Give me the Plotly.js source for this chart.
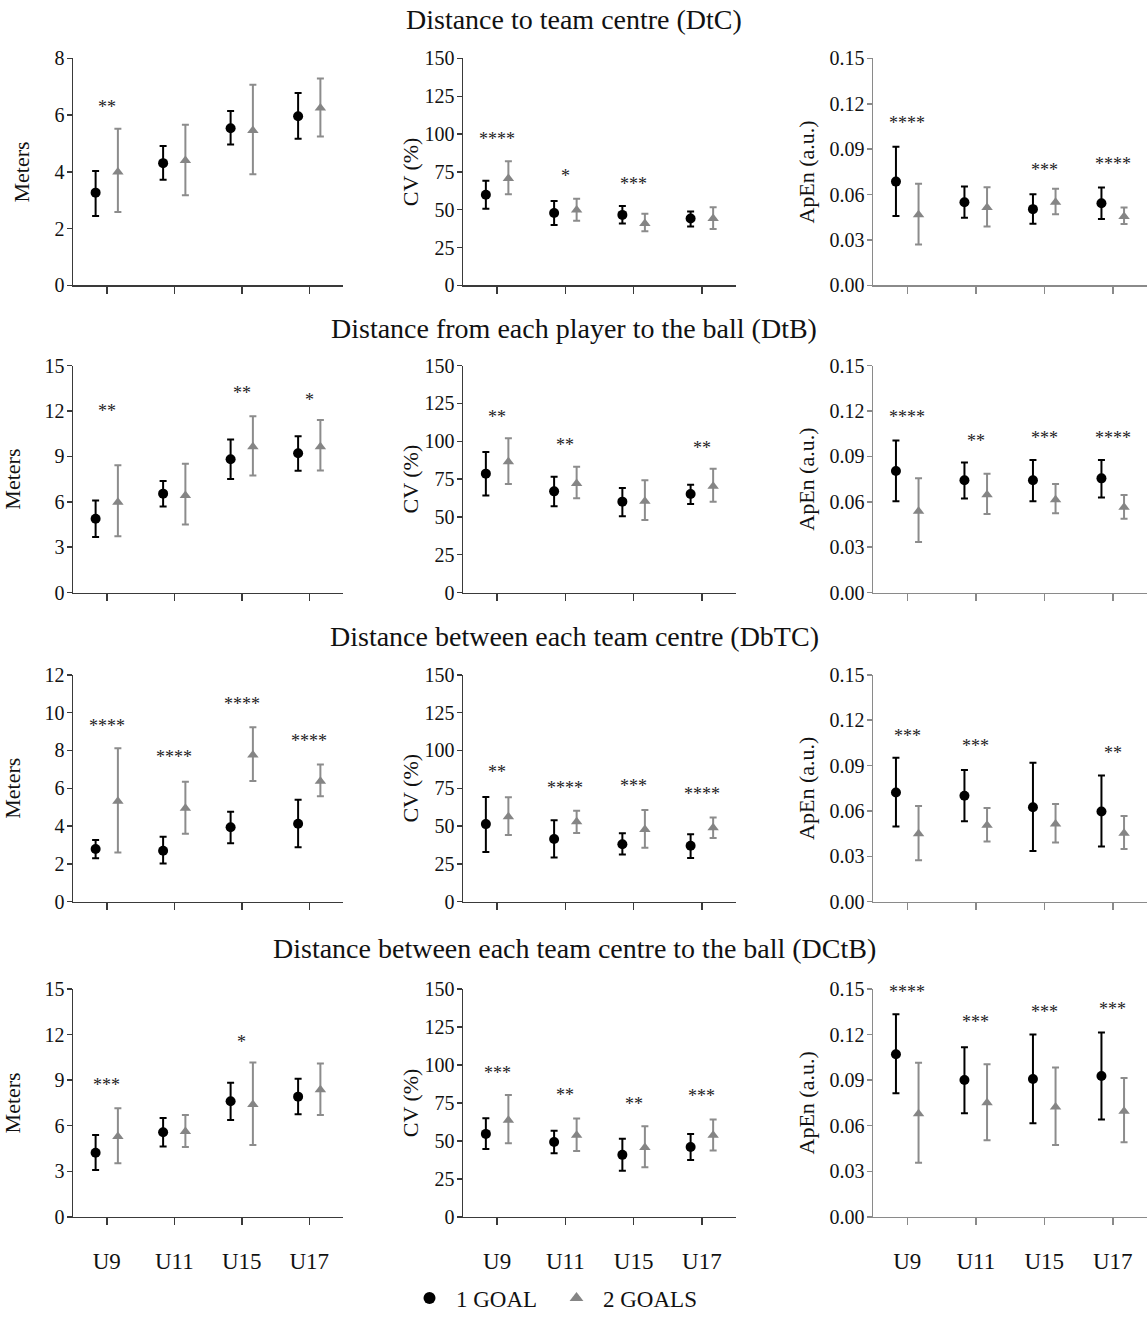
<!DOCTYPE html>
<html><head><meta charset="utf-8">
<script src="https://cdn.plot.ly/plotly-3.0.1.min.js"></script>
<style>html,body{margin:0;padding:0;background:#fff}#chart{width:1148px;height:1320px}</style>
</head><body><div id="chart"></div>
<script>
// ---------- DATA ----------
const AGE_GROUPS = ['U9', 'U11', 'U15', 'U17'];
const SERIES_NAMES = ['1 GOAL', '2 GOALS'];
const ROW_TITLES = [
  'Distance to team centre (DtC)',
  'Distance from each player to the ball (DtB)',
  'Distance between each team centre (DbTC)',
  'Distance between each team centre to the ball (DCtB)'
];
const Y_TITLES = ['Meters', 'CV (%)', 'ApEn (a.u.)'];

// Row 1: DtC
const DtC_M_g1 = [3.27, 4.31, 5.54, 5.96];
const DtC_M_g1_hi = [4.03, 4.91, 6.15, 6.78];
const DtC_M_g1_lo = [2.45, 3.72, 4.97, 5.17];
const DtC_M_g2 = [4.00, 4.40, 5.46, 6.25];
const DtC_M_g2_hi = [5.52, 5.66, 7.07, 7.29];
const DtC_M_g2_lo = [2.59, 3.18, 3.92, 5.25];
const DtC_M_sig = ['**', '', '', ''];
const DtC_M_sigY = [6.4, null, null, null];

const DtC_CV_g1 = [59.9, 47.8, 46.6, 44.2];
const DtC_CV_g1_hi = [69.2, 55.8, 52.4, 48.9];
const DtC_CV_g1_lo = [50.6, 39.9, 40.9, 39.0];
const DtC_CV_g2 = [70.7, 49.8, 40.9, 44.2];
const DtC_CV_g2_hi = [82.1, 57.3, 47.4, 51.7];
const DtC_CV_g2_lo = [60.3, 42.7, 35.8, 37.3];
const DtC_CV_sig = ['****', '*', '***', ''];
const DtC_CV_sigY = [99, 74.4, 69, null];

const DtC_Ap_g1 = [0.0686, 0.0549, 0.0504, 0.0543];
const DtC_Ap_g1_hi = [0.0916, 0.0653, 0.0603, 0.0647];
const DtC_Ap_g1_lo = [0.0458, 0.0447, 0.0408, 0.0438];
const DtC_Ap_g2 = [0.0467, 0.0514, 0.0549, 0.0456];
const DtC_Ap_g2_hi = [0.0671, 0.0649, 0.0638, 0.0514];
const DtC_Ap_g2_lo = [0.0271, 0.0389, 0.0471, 0.0406];
const DtC_Ap_sig = ['****', '', '***', '****'];
const DtC_Ap_sigY = [0.109, null, 0.078, 0.0825];

// Row 2: DtB
const DtB_M_g1 = [4.88, 6.54, 8.81, 9.21];
const DtB_M_g1_hi = [6.08, 7.37, 10.12, 10.34];
const DtB_M_g1_lo = [3.67, 5.69, 7.50, 8.05];
const DtB_M_g2 = [5.97, 6.41, 9.64, 9.64];
const DtB_M_g2_hi = [8.42, 8.51, 11.66, 11.41];
const DtB_M_g2_lo = [3.72, 4.50, 7.74, 8.07];
const DtB_M_sig = ['**', '', '**', '*'];
const DtB_M_sigY = [12.2, null, 13.4, 12.9];

const DtB_CV_g1 = [78.6, 66.9, 60.1, 65.1];
const DtB_CV_g1_hi = [92.9, 76.6, 69.2, 71.2];
const DtB_CV_g1_lo = [64.2, 57.1, 50.4, 58.6];
const DtB_CV_g2 = [86.4, 72.1, 60.3, 70.3];
const DtB_CV_g2_hi = [102.0, 83.1, 74.2, 81.8];
const DtB_CV_g2_lo = [71.8, 62.3, 48.0, 60.1];
const DtB_CV_sig = ['**', '**', '', '**'];
const DtB_CV_sigY = [118, 99.4, null, 97.7];

const DtB_Ap_g1 = [0.0803, 0.0742, 0.0742, 0.0755];
const DtB_Ap_g1_hi = [0.1005, 0.0860, 0.0877, 0.0877];
const DtB_Ap_g1_lo = [0.0603, 0.0621, 0.0603, 0.0629];
const DtB_Ap_g2 = [0.0538, 0.0647, 0.0614, 0.0564];
const DtB_Ap_g2_hi = [0.0755, 0.0786, 0.0718, 0.0645];
const DtB_Ap_g2_lo = [0.0334, 0.0519, 0.0525, 0.0488];
const DtB_Ap_sig = ['****', '**', '***', '****'];
const DtB_Ap_sigY = [0.118, 0.102, 0.104, 0.104];

// Row 3: DbTC
const DbTC_M_g1 = [2.79, 2.70, 3.94, 4.12];
const DbTC_M_g1_hi = [3.26, 3.44, 4.76, 5.39];
const DbTC_M_g1_lo = [2.30, 2.02, 3.09, 2.88];
const DbTC_M_g2 = [5.32, 4.94, 7.76, 6.37];
const DbTC_M_g2_hi = [8.11, 6.35, 9.23, 7.26];
const DbTC_M_g2_lo = [2.60, 3.59, 6.38, 5.58];
const DbTC_M_sig = ['****', '****', '****', '****'];
const DbTC_M_sigY = [9.45, 7.8, 10.6, 8.65];

const DbTC_CV_g1 = [51.3, 41.5, 38.0, 37.0];
const DbTC_CV_g1_hi = [69.3, 53.9, 45.2, 44.6];
const DbTC_CV_g1_lo = [32.8, 29.3, 31.3, 28.9];
const DbTC_CV_g2 = [56.1, 52.8, 47.8, 48.9];
const DbTC_CV_g2_hi = [69.1, 60.2, 60.7, 55.7];
const DbTC_CV_g2_lo = [44.1, 45.4, 35.7, 42.2];
const DbTC_CV_sig = ['**', '****', '***', '****'];
const DbTC_CV_sigY = [88, 77.2, 78.3, 73.5];

const DbTC_Ap_g1 = [0.0722, 0.0700, 0.0625, 0.0596];
const DbTC_Ap_g1_hi = [0.0951, 0.0871, 0.0919, 0.0834];
const DbTC_Ap_g1_lo = [0.0497, 0.0532, 0.0335, 0.0365];
const DbTC_Ap_g2 = [0.0450, 0.0506, 0.0514, 0.0452];
const DbTC_Ap_g2_hi = [0.0633, 0.0620, 0.0646, 0.0566];
const DbTC_Ap_g2_lo = [0.0274, 0.0398, 0.0391, 0.0348];
const DbTC_Ap_sig = ['***', '***', '', '**'];
const DbTC_Ap_sigY = [0.1115, 0.1046, null, 0.1003];

// Row 4: DCtB
const DCtB_M_g1 = [4.22, 5.57, 7.61, 7.91];
const DCtB_M_g1_hi = [5.39, 6.50, 8.83, 9.09];
const DCtB_M_g1_lo = [3.09, 4.63, 6.37, 6.76];
const DCtB_M_g2 = [5.28, 5.61, 7.39, 8.37];
const DCtB_M_g2_hi = [7.15, 6.70, 10.15, 10.09];
const DCtB_M_g2_lo = [3.52, 4.59, 4.72, 6.70];
const DCtB_M_sig = ['***', '', '*', ''];
const DCtB_M_sigY = [8.85, null, 11.7, null];

const DCtB_CV_g1 = [54.6, 49.2, 40.8, 46.0];
const DCtB_CV_g1_hi = [64.9, 56.7, 51.4, 54.6];
const DCtB_CV_g1_lo = [44.7, 41.9, 30.3, 37.4];
const DCtB_CV_g2 = [63.6, 53.7, 45.6, 53.7];
const DCtB_CV_g2_hi = [80.2, 64.7, 59.7, 64.0];
const DCtB_CV_g2_lo = [48.4, 43.4, 32.7, 43.6];
const DCtB_CV_sig = ['***', '**', '**', '***'];
const DCtB_CV_sigY = [96.9, 81.9, 76.3, 81.2];

const DCtB_Ap_g1 = [0.1070, 0.0901, 0.0907, 0.0927];
const DCtB_Ap_g1_hi = [0.1333, 0.1116, 0.1200, 0.1213];
const DCtB_Ap_g1_lo = [0.0814, 0.0682, 0.0616, 0.0640];
const DCtB_Ap_g2 = [0.0679, 0.0751, 0.0723, 0.0695];
const DCtB_Ap_g2_hi = [0.1014, 0.1005, 0.0983, 0.0914];
const DCtB_Ap_g2_lo = [0.0356, 0.0504, 0.0473, 0.0491];
const DCtB_Ap_sig = ['****', '***', '***', '***'];
const DCtB_Ap_sigY = [0.150, 0.130, 0.137, 0.139];

// Axis scales (value ranges & tick steps)
const Y_MAX = [[8, 150, 0.15], [15, 150, 0.15], [12, 150, 0.15], [15, 150, 0.15]];
const Y_STEP = [[2, 25, 0.03], [3, 25, 0.03], [2, 25, 0.03], [3, 25, 0.03]];

// ---------- BUILD ----------
const P = (g1, g1hi, g1lo, g2, g2hi, g2lo, sig, sigY) => ({g1, g1hi, g1lo, g2, g2hi, g2lo, sig, sigY});
const panels = [
  [P(DtC_M_g1, DtC_M_g1_hi, DtC_M_g1_lo, DtC_M_g2, DtC_M_g2_hi, DtC_M_g2_lo, DtC_M_sig, DtC_M_sigY),
   P(DtC_CV_g1, DtC_CV_g1_hi, DtC_CV_g1_lo, DtC_CV_g2, DtC_CV_g2_hi, DtC_CV_g2_lo, DtC_CV_sig, DtC_CV_sigY),
   P(DtC_Ap_g1, DtC_Ap_g1_hi, DtC_Ap_g1_lo, DtC_Ap_g2, DtC_Ap_g2_hi, DtC_Ap_g2_lo, DtC_Ap_sig, DtC_Ap_sigY)],
  [P(DtB_M_g1, DtB_M_g1_hi, DtB_M_g1_lo, DtB_M_g2, DtB_M_g2_hi, DtB_M_g2_lo, DtB_M_sig, DtB_M_sigY),
   P(DtB_CV_g1, DtB_CV_g1_hi, DtB_CV_g1_lo, DtB_CV_g2, DtB_CV_g2_hi, DtB_CV_g2_lo, DtB_CV_sig, DtB_CV_sigY),
   P(DtB_Ap_g1, DtB_Ap_g1_hi, DtB_Ap_g1_lo, DtB_Ap_g2, DtB_Ap_g2_hi, DtB_Ap_g2_lo, DtB_Ap_sig, DtB_Ap_sigY)],
  [P(DbTC_M_g1, DbTC_M_g1_hi, DbTC_M_g1_lo, DbTC_M_g2, DbTC_M_g2_hi, DbTC_M_g2_lo, DbTC_M_sig, DbTC_M_sigY),
   P(DbTC_CV_g1, DbTC_CV_g1_hi, DbTC_CV_g1_lo, DbTC_CV_g2, DbTC_CV_g2_hi, DbTC_CV_g2_lo, DbTC_CV_sig, DbTC_CV_sigY),
   P(DbTC_Ap_g1, DbTC_Ap_g1_hi, DbTC_Ap_g1_lo, DbTC_Ap_g2, DbTC_Ap_g2_hi, DbTC_Ap_g2_lo, DbTC_Ap_sig, DbTC_Ap_sigY)],
  [P(DCtB_M_g1, DCtB_M_g1_hi, DCtB_M_g1_lo, DCtB_M_g2, DCtB_M_g2_hi, DCtB_M_g2_lo, DCtB_M_sig, DCtB_M_sigY),
   P(DCtB_CV_g1, DCtB_CV_g1_hi, DCtB_CV_g1_lo, DCtB_CV_g2, DCtB_CV_g2_hi, DCtB_CV_g2_lo, DCtB_CV_sig, DCtB_CV_sigY),
   P(DCtB_Ap_g1, DCtB_Ap_g1_hi, DCtB_Ap_g1_lo, DCtB_Ap_g2, DCtB_Ap_g2_hi, DCtB_Ap_g2_lo, DCtB_Ap_sig, DCtB_Ap_sigY)]
];

const W = 1148, H = 1320;
const FONT = 'Liberation Serif, Times New Roman, serif';
const COL_PX = [[73, 343], [463, 736], [873, 1147]];
const ROW_PX = [[59, 288], [369, 598], [681, 910], [998, 1228]];
const TITLE_PX = [20, 332, 642, 957];
const AXIS_COL = ['#3a3a3a', '#3a3a3a', '#8a8a8a'];
const STANDOFF = [19, 0, 9];
const OFF = 0.165;

const catIdx = AGE_GROUPS.map((_, i) => i);
const data = [];
const annotations = [];
const layout = {
  width: W, height: H,
  margin: {l: 0, r: 0, t: 0, b: 0},
  paper_bgcolor: '#fff', plot_bgcolor: 'rgba(0,0,0,0)',
  font: {family: FONT, color: '#1a1a1a'},
  showlegend: true,
  legend: {
    orientation: 'h', x: 403 / W, xanchor: 'left', y: 1 - 1310 / H, yanchor: 'middle',
    font: {family: FONT, size: 23, color: '#111'}, itemsizing: 'constant',
    bgcolor: 'rgba(0,0,0,0)', tracegroupgap: 0, itemwidth: 43,
    entrywidth: 89, entrywidthmode: 'pixels'
  },
  annotations: annotations
};

let k = 0;
for (let r = 0; r < 4; r++) {
  for (let c = 0; c < 3; c++) {
    k++;
    const s = k === 1 ? '' : String(k);
    const p = panels[r][c];
    const isBottom = r === 3;
    layout['xaxis' + s] = {
      domain: [COL_PX[c][0] / W, COL_PX[c][1] / W],
      anchor: 'y' + s,
      range: [-0.5, 3.5],
      tickvals: catIdx, ticktext: AGE_GROUPS,
      showticklabels: isBottom,
      tickfont: {family: FONT, size: 23, color: '#111'},
      ticks: 'outside', ticklen: 7, tickwidth: 1.5, tickcolor: AXIS_COL[c],
      ticklabelstandoff: 16,
      showline: true, linecolor: AXIS_COL[c], linewidth: 1.5,
      showgrid: false, zeroline: false, fixedrange: true
    };
    layout['yaxis' + s] = {
      domain: [1 - ROW_PX[r][1] / H, 1 - ROW_PX[r][0] / H],
      anchor: 'x' + s,
      range: [0, Y_MAX[r][c]],
      tick0: 0, dtick: Y_STEP[r][c],
      tickformat: c === 2 ? '.2f' : '',
      tickfont: {family: FONT, size: 20, color: '#111'},
      ticks: 'outside', ticklen: 5, tickwidth: 1.5, tickcolor: AXIS_COL[c],
      ticklabelstandoff: -2,
      showline: true, linecolor: AXIS_COL[c], linewidth: 1.5,
      showgrid: false, zeroline: false, fixedrange: true,
      title: {text: Y_TITLES[c], font: {family: FONT, size: 22, color: '#111'}, standoff: STANDOFF[c]}
    };
    const xa = 'x' + s, ya = 'y' + s;
    data.push({
      type: 'scatter', mode: 'markers', name: SERIES_NAMES[0], legendgroup: 'g1', showlegend: k === 1,
      x: catIdx.map(i => i - OFF), y: p.g1, xaxis: xa, yaxis: ya, cliponaxis: false,
      marker: {symbol: 'circle', size: 10, color: '#000'},
      error_y: {type: 'data', symmetric: false,
        array: p.g1.map((v, i) => p.g1hi[i] - v), arrayminus: p.g1.map((v, i) => v - p.g1lo[i]),
        color: '#000', thickness: 2, width: 3.5},
      hoverinfo: 'skip'
    });
    data.push({
      type: 'scatter', mode: 'markers', name: SERIES_NAMES[1], legendgroup: 'g2', showlegend: k === 1,
      x: catIdx.map(i => i + OFF), y: p.g2, xaxis: xa, yaxis: ya, cliponaxis: false,
      marker: {symbol: 'triangle-up', size: 10, color: '#858585'},
      error_y: {type: 'data', symmetric: false,
        array: p.g2.map((v, i) => p.g2hi[i] - v), arrayminus: p.g2.map((v, i) => v - p.g2lo[i]),
        color: '#8c8c8c', thickness: 2, width: 3.5},
      hoverinfo: 'skip'
    });
    p.sig.forEach((txt, i) => {
      if (!txt) return;
      annotations.push({
        text: txt, x: i, y: p.sigY[i], xref: xa, yref: ya,
        showarrow: false, xanchor: 'center', yanchor: 'middle', yshift: -3,
        font: {family: FONT, size: 18, color: '#222'}
      });
    });
  }
  annotations.push({
    text: ROW_TITLES[r], xref: 'paper', yref: 'paper',
    x: 574 / W, y: 1 - TITLE_PX[r] / H, xanchor: 'center', yanchor: 'middle',
    showarrow: false, font: {family: FONT, size: 28, color: '#111'}
  });
}

Plotly.newPlot('chart', data, layout, {displayModeBar: false, staticPlot: true});
</script></body></html>
